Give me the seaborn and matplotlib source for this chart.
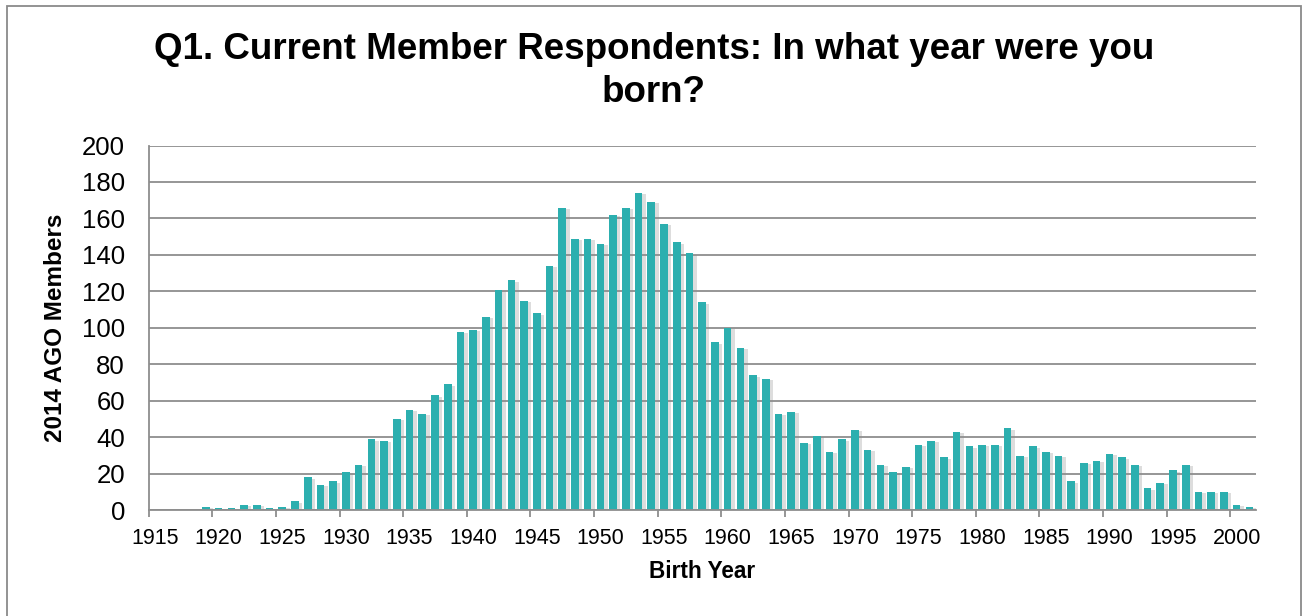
import matplotlib
matplotlib.use("Agg")
import matplotlib.pyplot as plt
import matplotlib.patheffects as pe
from matplotlib.patches import Rectangle
import seaborn as sns
import pandas as pd

# ---- data ----
years = list(range(1915, 2002))
members = [
    0, 0, 0, 0, 2, 1, 1, 3, 3, 1,          # 1915-1924
    2, 5, 18, 14, 16, 21, 25, 39, 38, 50,  # 1925-1934
    55, 53, 63, 69, 98, 99, 106, 121, 126, 115,  # 1935-1944
    108, 134, 166, 149, 149, 146, 162, 166, 174, 169,  # 1945-1954
    157, 147, 141, 114, 92, 100, 89, 74, 72, 53,  # 1955-1964
    54, 37, 41, 32, 39, 44, 33, 25, 21, 24,  # 1965-1974
    36, 38, 29, 43, 35, 36, 36, 45, 30, 35,  # 1975-1984
    32, 30, 16, 26, 27, 31, 29, 25, 12, 15,  # 1985-1994
    22, 25, 10, 10, 10, 3, 2,              # 1995-2001
]
tick_years = list(range(1915, 2001, 5))
y_ticks = list(range(0, 201, 20))

title = "Q1. Current Member Respondents: In what year were you\nborn?"
x_title = "Birth Year"
y_title = "2014 AGO Members"

bar_color = "#2CAFAF"
grid_color = "#8E8E8E"

sns.set_theme(style="white")
plt.rcParams["font.family"] = ["Liberation Sans", "DejaVu Sans"]

df = pd.DataFrame({"year": [str(y) for y in years], "count": members})

fig = plt.figure(figsize=(13.04, 6.16), dpi=100)
ax = fig.add_axes([148.7 / 1304, 1 - 510.3 / 616, (1255.7 - 148.7) / 1304, (510.3 - 145.5) / 616])

sns.barplot(data=df, x="year", y="count", order=df["year"].tolist(),
            color=bar_color, saturation=1, width=0.6, linewidth=0, ax=ax, zorder=3)

for p in ax.patches:
    p.set_linewidth(0)
    p.set_path_effects([pe.SimplePatchShadow(offset=(2.5, -1.0), shadow_rgbFace="#8f8f8f", alpha=0.3),
                        pe.Normal()])

ax.set_xlim(-0.5, len(years) - 0.5)
ax.set_ylim(0, 200)
ax.set_yticks(y_ticks)
ax.set_yticklabels([str(v) for v in y_ticks], fontsize=18.5, color="black")
ax.tick_params(axis="y", length=0, pad=17)

# labels at category centres, tick marks at category boundaries
pos = [years.index(y) for y in tick_years]
ax.set_xticks(pos)
ax.set_xticklabels([str(y) for y in tick_years], fontsize=15.5, color="black")
ax.set_xticks([p - 0.5 for p in pos], minor=True)
ax.tick_params(axis="x", which="major", length=0, pad=13)
ax.tick_params(axis="x", which="minor", length=5, width=1.3, color=grid_color, direction="out", bottom=True)

ax.yaxis.grid(True, color=grid_color, linewidth=1.3, zorder=0)
ax.xaxis.grid(False)
ax.set_axisbelow(True)
for s in ["top", "right"]:
    ax.spines[s].set_visible(False)
for s in ["left", "bottom"]:
    ax.spines[s].set_color(grid_color)
    ax.spines[s].set_linewidth(1.3)
ax.spines["bottom"].set_zorder(4)

ax.set_xlabel("")
ax.set_ylabel("")
fig.text(702 / 1304, 1 - 572 / 616, x_title, ha="center", va="center",
         fontsize=16.3, fontweight="bold", color="black")
fig.text(56 / 1304, 1 - 328 / 616, y_title, ha="center", va="center", rotation=90,
         fontsize=17.5, fontweight="bold", color="black")
fig.text(654 / 1304, 1 - 71 / 616, title, ha="center", va="center",
         fontsize=26.5, fontweight="bold", color="black", linespacing=1.32)

# outer chart border
fig.patches.append(Rectangle((7 / 1304, -0.05), (1301 - 7) / 1304, 1 - 6.5 / 616 + 0.05,
                             transform=fig.transFigure, fill=False,
                             edgecolor="#8a8a8a", linewidth=1.3))

fig.savefig("out.png", dpi=100)
